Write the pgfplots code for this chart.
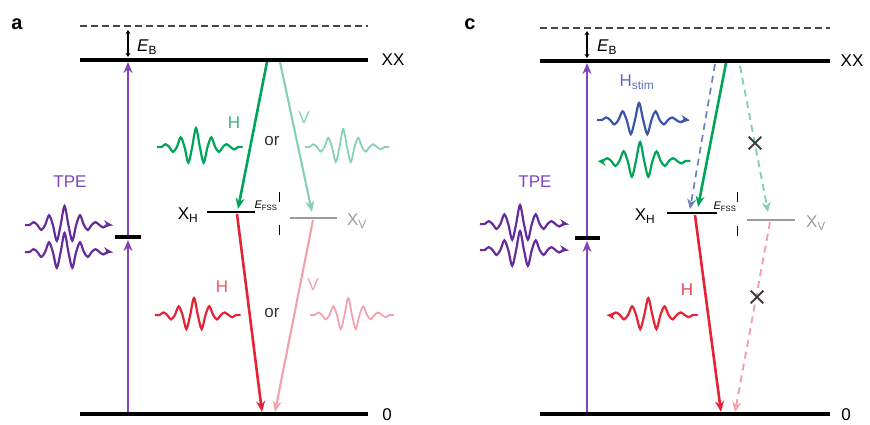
\documentclass[border=0pt]{standalone}
\usepackage{fontspec}
\setmainfont{Liberation Sans}
\usepackage{pgfplots}
\pgfplotsset{compat=1.18}
\usepackage{pgfplotstable}
\usetikzlibrary{arrows.meta}

\definecolor{purp}{RGB}{128,70,185}
\definecolor{purpd}{RGB}{100,45,155}
\definecolor{gH}{RGB}{0,165,90}
\definecolor{gV}{RGB}{130,210,175}
\definecolor{rH}{RGB}{228,35,55}
\definecolor{pV}{RGB}{242,160,172}
\definecolor{bH}{RGB}{60,85,170}
\definecolor{grayV}{RGB}{155,155,155}
\definecolor{dashc}{RGB}{70,70,70}

\pgfplotstableread{
x y
-0.3 0
0 0
0.25 0.15
0.5 0
0.75 -0.26
1 0
1.25 0.51
1.5 0
1.75 -0.83
2 0
2.25 1
2.5 0
2.75 -0.83
3 0
3.25 0.51
3.5 0
3.75 -0.26
4 0
4.25 0.15
4.5 0
4.75 -0.13
5 0
5.3 0
}\packet

\newcommand{\f}{\fontsize{17}{20}\selectfont}
\newcommand{\fs}{\fontsize{11}{12}\selectfont}
\newcommand{\wave}[5]{\addplot[smooth,line width=2.2pt,#1] table[x expr={#2+(\thisrow{x}+0.3)*#4}, y expr={#3-\thisrow{y}*#5}] {\packet};}

\tikzset{
  lev/.style={black,line width=3.4pt},
  arr/.style={line width=2.6pt,-{Stealth[length=11pt,width=9pt]}},
  darr/.style={line width=1.9pt,dash pattern=on 7pt off 5pt,-{Stealth[length=10pt,width=9pt]}},
  tiny/.style={black,line width=1pt,-{Stealth[length=5pt,width=5pt]}},
  wr/.style={-{Stealth[length=8pt,width=8pt]}},
  wl/.style={{Stealth[length=8pt,width=8pt]}-},
}

\begin{document}
\begin{tikzpicture}
\begin{axis}[x=1pt,y=1pt,y dir=reverse,xmin=0,xmax=870,ymin=0,ymax=425,
  hide axis,clip=false]
\addplot[draw=none] coordinates {(0,0) (870,425)};

% ================= panel a =================
\addplot[dashc,line width=2pt,dash pattern=on 7pt off 4pt] coordinates {(80,26) (368,26)};
\addplot[lev] coordinates {(80,60) (368,60)};
\addplot[lev] coordinates {(80,414) (368,414)};
\addplot[black,line width=2.8pt] coordinates {(207,212) (255,212)};
\addplot[grayV,line width=2.8pt] coordinates {(290,218) (337,218)};
\addplot[lev] coordinates {(115,237) (141,237)};
\addplot[black,line width=1.4pt,{Stealth[length=4pt,width=5pt]}-{Stealth[length=4pt,width=5pt]}] coordinates {(128,30) (128,57)};
\addplot[purp,arr] coordinates {(128,412) (128,240)};
\addplot[purp,arr] coordinates {(128,235) (128,62)};
\addplot[gH,arr] coordinates {(267,62) (238,209)};
\addplot[gV,arr,line width=2.1pt] coordinates {(280,62) (312,212)};
\addplot[rH,arr] coordinates {(237,214) (262,412)};
\addplot[pV,arr,line width=2.1pt] coordinates {(313,220) (275,412)};
\addplot[tiny] coordinates {(279,192) (279,202)};
\addplot[tiny] coordinates {(279,235) (279,225)};

\wave{purpd,wr}{25}{225}{15.5}{19}
\wave{purpd,wr}{25}{252}{15.5}{19}
\wave{gH}{157}{147}{15.3}{19}
\wave{gV,line width=1.7pt}{305}{147}{15}{18}
\wave{rH}{155}{315}{15.3}{17}
\wave{pV,line width=1.7pt}{310}{315}{15}{17}

\node[font=\bfseries\fontsize{20}{20}\selectfont] at (axis cs:17,24) {a};
\node[font=\f] at (axis cs:393,60) {XX};
\node[font=\f] at (axis cs:387,415) {0};
\node[font=\f,anchor=west,inner sep=0pt] at (axis cs:137,47) {\textit{E}\textsubscript{B}};
\node[font=\f,text=purp] at (axis cs:70,182) {TPE};
\node[font=\f] at (axis cs:188,215) {X\textsubscript{H}};
\node[font=\f,text=grayV] at (axis cs:357,221) {X\textsubscript{V}};
\node[font=\fs] at (axis cs:266,206) {\textit{E}\textsubscript{FSS}};
\node[font=\f,text=gH!80] at (axis cs:234,123) {H};
\node[font=\f,text=gV] at (axis cs:304,118) {V};
\node[font=\f,text=black!80] at (axis cs:272,141) {or};
\node[font=\f,text=rH!75] at (axis cs:222,287) {H};
\node[font=\f,text=pV] at (axis cs:313,285) {V};
\node[font=\f,text=black!80] at (axis cs:272,313) {or};

% ================= panel c =================
\addplot[dashc,line width=2pt,dash pattern=on 7pt off 4pt] coordinates {(540,28) (830,28)};
\addplot[lev] coordinates {(540,61) (830,61)};
\addplot[lev] coordinates {(540,414) (830,414)};
\addplot[black,line width=2.8pt] coordinates {(667,213) (717,213)};
\addplot[grayV,line width=2.8pt] coordinates {(747,220) (795,220)};
\addplot[lev] coordinates {(575,238) (600,238)};
\addplot[black,line width=1.4pt,{Stealth[length=4pt,width=5pt]}-{Stealth[length=4pt,width=5pt]}] coordinates {(587,31) (587,58)};
\addplot[purp,arr] coordinates {(587,412) (587,241)};
\addplot[purp,arr] coordinates {(587,236) (587,63)};
\addplot[bH!75,darr,line width=1.7pt] coordinates {(715,64) (690,209)};
\addplot[gH,arr] coordinates {(726,63) (698,207)};
\addplot[gV,darr] coordinates {(740,66) (768,212)};
\addplot[rH,arr] coordinates {(695,215) (721,412)};
\addplot[pV,darr] coordinates {(770,222) (735,412)};
\addplot[tiny] coordinates {(737,192) (737,202)};
\addplot[tiny] coordinates {(737,236) (737,226)};
\addplot[only marks,mark=x,mark size=9pt,black!75,mark options={line width=1.8pt}] coordinates {(755,143) (757,297)};

\wave{purpd,wr}{480}{224}{15.7}{19}
\wave{purpd,wr}{480}{250}{15.7}{19}
\wave{bH,wr}{597}{120}{16.5}{17}
\wave{gH,wl}{598}{161}{16.5}{19}
\wave{rH,wl}{607}{315}{16.2}{17}

\node[font=\bfseries\fontsize{20}{20}\selectfont] at (axis cs:470,24) {c};
\node[font=\f] at (axis cs:852,61) {XX};
\node[font=\f] at (axis cs:846,415) {0};
\node[font=\f,anchor=west,inner sep=0pt] at (axis cs:597,47) {\textit{E}\textsubscript{B}};
\node[font=\f,text=purp] at (axis cs:535,182) {TPE};
\node[font=\f] at (axis cs:645,216) {X\textsubscript{H}};
\node[font=\f,text=grayV] at (axis cs:816,223) {X\textsubscript{V}};
\node[font=\fs] at (axis cs:725,207) {\textit{E}\textsubscript{FSS}};
\node[font=\f,text=bH!85] at (axis cs:637,82) {H\textsubscript{stim}};
\node[font=\f,text=rH!85] at (axis cs:687,290) {H};
\end{axis}
\end{tikzpicture}
\end{document}
